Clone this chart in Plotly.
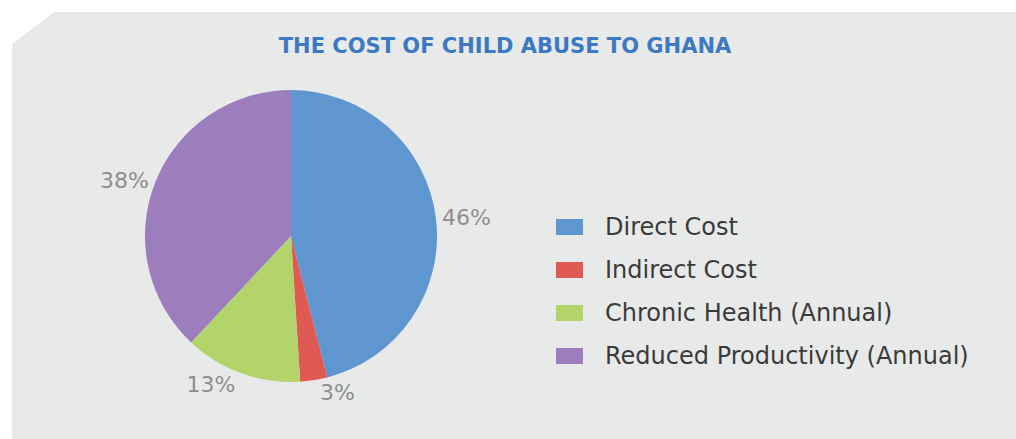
import plotly.graph_objects as go

# Share of the total cost of child abuse, by component (percent)
categories = ["Direct Cost", "Indirect Cost", "Chronic Health (Annual)", "Reduced Productivity (Annual)"]
shares = [46, 3, 13, 38]
colors = ["#5f96cf", "#e05a55", "#b3d36b", "#9c7dbd"]

W, H = 1016, 439

def px(x):
    return x / W

def py(y):
    return 1 - y / H

# Pie placed in a square domain (centre ~ (291, 236), radius ~146 px)
cx, cy, r = 291, 236, 146
fig = go.Figure(go.Pie(
    labels=categories,
    values=shares,
    sort=False,
    direction="clockwise",
    rotation=0,
    marker=dict(colors=colors, line=dict(width=0)),
    texttemplate="%{value}%",
    textposition="outside",
    outsidetextfont=dict(family="DejaVu Sans", size=22, color="#8e8e8e"),
    hoverinfo="label+percent",
    showlegend=False,
    domain=dict(x=[px(cx - r), px(cx + r)], y=[py(cy + r), py(cy - r)]),
))

shapes = []
# Light grey panel with a chamfered top-left corner
shapes.append(dict(
    type="path", xref="paper", yref="paper", layer="below",
    path=f"M {px(12)},{py(44)} L {px(54)},{py(12)} L 1,{py(12)} L 1,0 L {px(12)},0 Z",
    fillcolor="#e8eaea", line=dict(width=0),
))

# Legend: colour swatch plus category name for each slice
annotations = []
row0, gap = 227, 43
for i, (name, col) in enumerate(zip(categories, colors)):
    yc = row0 + i * gap
    shapes.append(dict(
        type="rect", xref="paper", yref="paper",
        x0=px(556), x1=px(583), y0=py(yc + 8), y1=py(yc - 8),
        fillcolor=col, line=dict(width=0),
    ))
    annotations.append(dict(
        x=px(603), y=py(yc), xref="paper", yref="paper",
        xanchor="left", yanchor="middle", showarrow=False,
        text=name, font=dict(family="DejaVu Sans", size=24, color="#3a3a3a"),
    ))

fig.update_layout(
    width=W, height=H,
    margin=dict(l=0, r=0, t=0, b=0),
    paper_bgcolor="#ffffff",
    plot_bgcolor="#ffffff",
    title=dict(
        text="<b>THE COST OF CHILD ABUSE TO GHANA</b>",
        x=px(505), xanchor="center", y=py(46), yanchor="middle",
        font=dict(family="DejaVu Sans", size=21, color="#3c79c1"),
    ),
    shapes=shapes,
    annotations=annotations,
)

fig.write_html("out.html")
